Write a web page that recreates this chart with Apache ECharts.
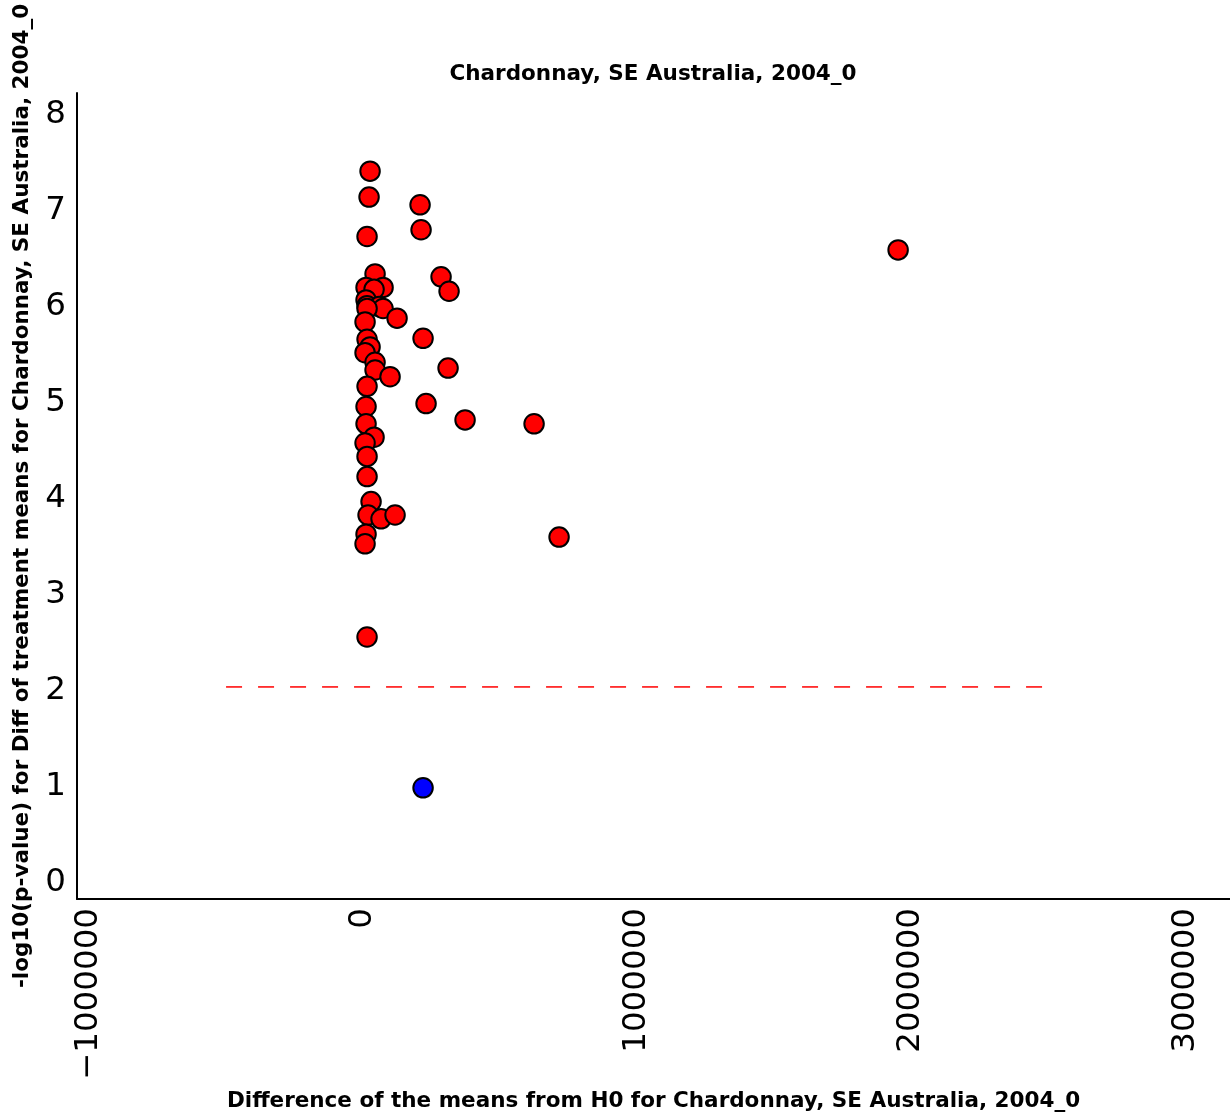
<!DOCTYPE html>
<html>
<head>
<meta charset="utf-8">
<script src="https://cdn.jsdelivr.net/npm/echarts@6/dist/echarts.min.js"></script>
<style>
html,body{margin:0;padding:0;background:#fff;}
#chart{width:1230px;height:1117px;}
</style>
</head>
<body>
<div id="chart"></div>
<script>
// Significant differences (red)
const redX = [25550, 21900, 14600, 208050, 211700, 1952750, 43800, 284700, 313900, 10950,
  73000, 40150, 10950, 14600, 58400, 73000, 14600, 124100, 7300, 219000,
  14600, 25550, 7300, 43800, 43800, 310250, 98550, 14600, 229950, 10950,
  372300, 624150, 10950, 40150, 7300, 14600, 14600, 29200, 18250, 65700,
  116800, 10950, 7300, 715400, 14600];
const redY = [7.37, 7.10, 6.69, 7.02, 6.76, 6.55, 6.30, 6.27, 6.12, 6.16,
  6.16, 6.14, 6.03, 5.97, 5.96, 5.94, 5.94, 5.84, 5.80, 5.63,
  5.62, 5.54, 5.48, 5.38, 5.30, 5.32, 5.23, 5.13, 4.95, 4.92,
  4.78, 4.74, 4.74, 4.60, 4.54, 4.40, 4.19, 3.93, 3.79, 3.75,
  3.79, 3.59, 3.49, 3.56, 2.52];
// Non-significant (blue)
const blueX = [219000];
const blueY = [0.95];
// Threshold line (-log10(0.01))
const thresholdX = [-500000, 2500000];
const thresholdY = [2, 2];
// Axis settings
const xTickValues = [-1000000, 0, 1000000, 2000000, 3000000];
const yTickValues = [0, 1, 2, 3, 4, 5, 6, 7, 8];

const titleText = 'Chardonnay, SE Australia, 2004_0';
const xName = 'Difference of the means from H0 for Chardonnay, SE Australia, 2004_0';
const yName = '-log10(p-value) for Diff of treatment means for Chardonnay, SE Australia, 2004_0';

const FONT = 'DejaVu Sans';
const zip = (a, b) => a.map((v, i) => [v, b[i]]);

const chart = echarts.init(document.getElementById('chart'), null, {renderer: 'canvas'});
chart.setOption({
  animation: false,
  backgroundColor: '#ffffff',
  title: {
    text: titleText,
    left: 653,
    top: 63,
    padding: 0,
    textAlign: 'center',
    textStyle: {fontFamily: FONT, fontWeight: 'bold', fontSize: 21.5, color: '#000'}
  },
  grid: {left: 77, right: 0, top: 93, bottom: 216, containLabel: false},
  xAxis: {
    type: 'value',
    min: -1044000,
    max: 3164000,
    splitNumber: 4,
    name: xName,
    nameLocation: 'middle',
    nameGap: 191,
    nameTextStyle: {fontFamily: FONT, fontWeight: 'bold', fontSize: 21.5, color: '#000', verticalAlign: 'top'},
    axisLine: {show: true, onZero: false, lineStyle: {color: '#000', width: 2}},
    axisTick: {show: false},
    splitLine: {show: false},
    axisLabel: {
      show: true,
      rotate: 90,
      margin: 9,
      showMinLabel: false,
      showMaxLabel: false,
      fontFamily: FONT,
      fontSize: 32.5,
      color: '#000',
      formatter: function (v) {
        if (xTickValues.indexOf(v) < 0) return '';
        return v < 0 ? '\u2212' + Math.abs(v) : String(v);
      }
    }
  },
  yAxis: {
    type: 'value',
    min: -0.208,
    max: 8.184,
    splitNumber: 8,
    name: yName,
    nameLocation: 'middle',
    nameGap: 44,
    nameTextStyle: {fontFamily: FONT, fontWeight: 'bold', fontSize: 21.5, color: '#000'},
    axisLine: {show: true, onZero: false, lineStyle: {color: '#000', width: 2}},
    axisTick: {show: false},
    splitLine: {show: false},
    axisLabel: {
      show: true,
      margin: 11,
      showMinLabel: false,
      showMaxLabel: false,
      fontFamily: FONT,
      fontSize: 32.5,
      color: '#000',
      rich: {
        t: {fontFamily: FONT, fontSize: 32.5, color: '#000', padding: [8, 0, 0, 0]}
      },
      formatter: function (v) {
        const r = Math.round(v);
        if (Math.abs(v - r) > 1e-9 || yTickValues.indexOf(r) < 0) return '';
        return '{t|' + r + '}';
      }
    }
  },
  series: [
    {
      type: 'line',
      data: zip(thresholdX, thresholdY),
      symbol: 'none',
      silent: true,
      lineStyle: {color: '#ff0000', width: 1.5, type: [16, 16]},
      z: 1
    },
    {
      type: 'scatter',
      data: zip(redX, redY),
      symbol: 'circle',
      symbolSize: 19.5,
      itemStyle: {color: '#ff0000', borderColor: '#000', borderWidth: 2, opacity: 1},
      z: 2
    },
    {
      type: 'scatter',
      data: zip(blueX, blueY),
      symbol: 'circle',
      symbolSize: 19.5,
      itemStyle: {color: '#0000ff', borderColor: '#000', borderWidth: 2, opacity: 1},
      z: 3
    }
  ]
});
</script>
</body>
</html>
